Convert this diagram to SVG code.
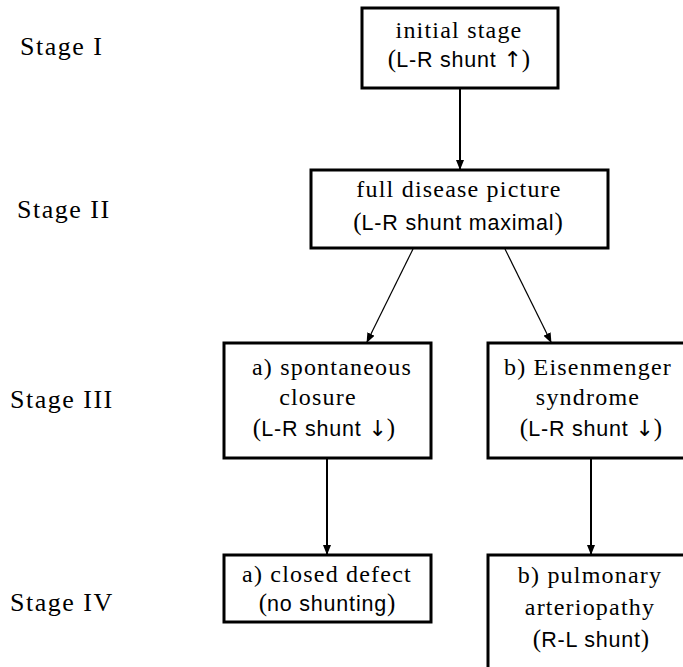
<svg xmlns="http://www.w3.org/2000/svg" width="683" height="667" viewBox="0 0 683 667">
<style>
.box{fill:#fff;stroke:#000;stroke-width:3}
.rm{font-family:"Liberation Serif","Times New Roman",serif;font-size:24px;letter-spacing:1.2px;fill:#000}
.st{font-family:"Liberation Serif","Times New Roman",serif;font-size:26px;letter-spacing:1.5px;fill:#000}
.ss{font-family:"Liberation Sans",Arial,sans-serif;font-size:21.5px;letter-spacing:0.8px}
.pr{font-family:"Liberation Serif","Times New Roman",serif;font-size:25px;letter-spacing:0}
.ar{font-family:"DejaVu Sans",sans-serif;font-size:22px;letter-spacing:0}
.c{text-anchor:middle}
.thick{stroke:#000;stroke-width:2;fill:none}
.thin{stroke:#000;stroke-width:1.2;fill:none}
</style>
<defs>
<marker id="ah" markerUnits="userSpaceOnUse" markerWidth="10" markerHeight="8" refX="9" refY="4" orient="auto">
<path d="M0,0 L10,4 L0,8 Z" fill="#000"/>
</marker>
</defs>
<rect width="683" height="667" fill="#fff"/>
<g id="stages">
<text class="st" x="20" y="55">Stage I</text>
<text class="st" x="17" y="218">Stage II</text>
<text class="st" x="10" y="408">Stage III</text>
<text class="st" x="10" y="611">Stage IV</text>
</g>
<g id="connectors">
<line class="thick" x1="460" y1="89" x2="460" y2="169" marker-end="url(#ah)"/>
<line class="thin" x1="413" y1="249" x2="367" y2="342" marker-end="url(#ah)"/>
<line class="thin" x1="505" y1="249" x2="551" y2="342" marker-end="url(#ah)"/>
<line class="thick" x1="327" y1="459" x2="327" y2="554" marker-end="url(#ah)"/>
<line class="thick" x1="591" y1="459" x2="591" y2="554" marker-end="url(#ah)"/>
</g>
<g id="n1">
<rect class="box" x="362" y="8" width="196" height="80"/>
<text class="rm c" x="459" y="38">initial stage</text>
<text class="rm c" x="459" y="67"><tspan class="pr">(</tspan><tspan class="ss">L-R shunt </tspan><tspan class="ar">↑</tspan><tspan class="pr">)</tspan></text>
</g>
<g id="n2">
<rect class="box" x="311" y="170" width="297" height="78"/>
<text class="rm c" x="459" y="197">full disease picture</text>
<text class="rm c" x="458" y="230"><tspan class="pr">(</tspan><tspan class="ss">L-R shunt maximal</tspan><tspan class="pr">)</tspan></text>
</g>
<g id="n3a">
<rect class="box" x="224" y="343" width="207" height="115"/>
<text class="rm c" x="332" y="375">a) spontaneous</text>
<text class="rm c" x="318" y="405">closure</text>
<text class="rm c" x="324" y="436"><tspan class="pr">(</tspan><tspan class="ss">L-R shunt </tspan><tspan class="ar">↓</tspan><tspan class="pr">)</tspan></text>
</g>
<g id="n3b">
<rect class="box" x="488" y="343" width="207" height="115"/>
<text class="rm c" x="588" y="375">b) Eisenmenger</text>
<text class="rm c" x="588" y="405">syndrome</text>
<text class="rm c" x="591" y="436"><tspan class="pr">(</tspan><tspan class="ss">L-R shunt </tspan><tspan class="ar">↓</tspan><tspan class="pr">)</tspan></text>
</g>
<g id="n4a">
<rect class="box" x="224" y="555" width="207" height="67"/>
<text class="rm c" x="327" y="582">a) closed defect</text>
<text class="rm c" x="327" y="611"><tspan class="pr">(</tspan><tspan class="ss">no shunting</tspan><tspan class="pr">)</tspan></text>
</g>
<g id="n4b">
<rect class="box" x="488" y="555" width="207" height="130"/>
<text class="rm c" x="590" y="583">b) pulmonary</text>
<text class="rm c" x="590" y="615">arteriopathy</text>
<text class="rm c" x="591" y="647"><tspan class="pr">(</tspan><tspan class="ss">R-L shunt</tspan><tspan class="pr">)</tspan></text>
</g>
</svg>
